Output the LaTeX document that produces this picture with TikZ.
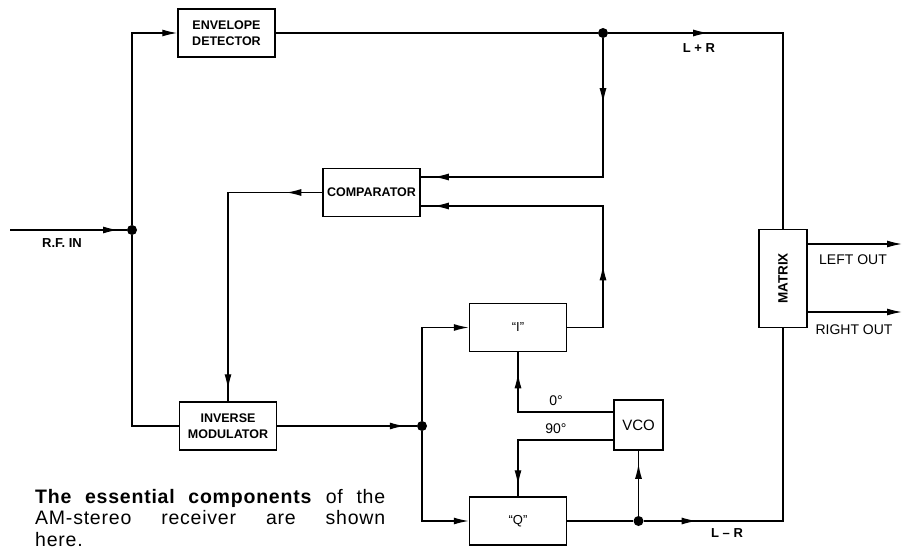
\documentclass[tikz,border=0pt]{standalone}
\usepackage{fontspec}
\setmainfont{Liberation Sans}
\newfontfamily\capfont[LetterSpace=4]{Liberation Sans}
\usetikzlibrary{arrows.meta, decorations.markings, calc}

\begin{document}
\begin{tikzpicture}[
  x=1pt, y=-1pt,
  blk/.style={draw, line width=1.5pt, minimum width=97pt, minimum height=48pt, inner sep=1pt, align=center, font=\fontsize{12.5}{15.5}\selectfont\bfseries},
  sq/.style={draw, line width=1.5pt, minimum width=49pt, minimum height=50pt, inner sep=1pt, font=\fontsize{15}{16}\selectfont},
  lbl/.style={inner sep=0pt, font=\fontsize{13}{14}\selectfont\bfseries},
  outlbl/.style={inner sep=0pt, font=\fontsize{14}{15}\selectfont},
  wire/.style={line width=1.3pt},
  arr/.style={wire, -{Latex[length=15pt, width=7pt]}},
  tipat/.style={postaction={decorate, decoration={markings, mark=at position #1 with {\arrow{Latex[length=15pt, width=7pt]}}}}},
  dot/.style={circle, fill, inner sep=0pt, minimum size=10pt}
]
\useasboundingbox (0,0) rectangle (904,553);

% --- blocks ---
\node[blk] (env)  at (226.5,33)  {ENVELOPE\\DETECTOR};
\node[blk] (comp) at (371.5,192.5) {COMPARATOR};
\node[blk] (inv)  at (228,426)   {INVERSE\\MODULATOR};
\node[blk, font=\fontsize{13}{15}\selectfont] (ibox) at (518,327.5) {“I”};
\node[blk, font=\fontsize{13}{15}\selectfont] (qbox) at (518,521)   {“Q”};
\node[sq]  (vco)  at (638.5,425) {VCO};
\node[draw, line width=1.5pt, minimum width=48pt, minimum height=98pt] (mat) at (783,278.5) {};
\node[rotate=90, font=\fontsize{13.5}{15}\selectfont\bfseries] (matlbl) at (mat) {MATRIX};

% --- junctions ---
\node[dot] (jl) at (132,230) {};
\node[dot] (jt) at (603,33) {};
\node[dot] (jm) at (422,426) {};
\node[dot] (jq) at (vco.south |- qbox.east) {};
\coordinate (rfin) at (10,230);
\coordinate (c1) at (603,177);
\coordinate (c2) at (603,206);
\coordinate (io) at (jt |- ibox.east);
\coordinate (cl) at (inv.north |- comp.west);
\coordinate (vco0) at ($(vco.west)+(0,-13)$);
\coordinate (vco90) at ($(vco.west)+(0,15)$);
\coordinate (lo) at (902,244);
\coordinate (ro) at (902,312);

% --- input side ---
\draw[wire, tipat=108pt] (rfin) -- (jl);
\draw[arr] (jl) |- (env.west);
\draw[wire] (jl) |- (inv.west);
\draw[wire] (env.east) -- (jt);
\draw[wire, tipat=100pt] (jt) -| (mat.north);

% --- comparator loop ---
\draw[wire, tipat=65pt, tipat=-13pt] (jt) -- (c1) -- (comp.east |- c1);
\draw[wire, tipat=98pt, tipat=-13pt] (ibox.east) -- (io) -- (c2) -- (comp.east |- c2);
\draw[wire, tipat=36pt, tipat=-12pt] (comp.west) -- (cl) -- (inv.north);
\draw[wire, tipat=-12pt] (inv.east) -- (jm);
\draw[arr] (jm) |- (ibox.west);
\draw[arr] (jm) |- (qbox.west);

% --- VCO ---
\draw[wire, tipat=-21pt] (vco0) -| (ibox.south);
\draw[wire, tipat=-11pt] (vco90) -| (qbox.north);
\draw[wire] (qbox.east) -- (jq);
\draw[wire, tipat=-13pt] (jq) -- (vco.south);
\draw[wire, tipat=53pt] (jq) -| (mat.south);

% --- outputs ---
\draw[arr] (mat.east |- lo) -- (lo);
\draw[arr] (mat.east |- ro) -- (ro);

% --- labels ---
\node[lbl] (rflbl) at (62,243) {R.F. IN};
\node[lbl] (lplus) at (699,48) {L + R};
\node[lbl] (lminus) at (727,533) {L -- R};
\node[outlbl] (deg0) at (556,401) {0°};
\node[outlbl] (deg90) at (556,429) {90°};
\node[outlbl] (leftlbl) at (853,260) {LEFT OUT};
\node[outlbl] (rightlbl) at (854,330) {RIGHT OUT};

% --- caption ---
\node[anchor=north west, text width=350pt, align=justify, inner sep=0pt, font=\capfont\fontsize{19.5}{21.5}\selectfont] (cap) at (35,489)
  {\textbf{The essential components} of the\linebreak AM-stereo receiver are shown\linebreak here.};
\end{tikzpicture}
\end{document}
